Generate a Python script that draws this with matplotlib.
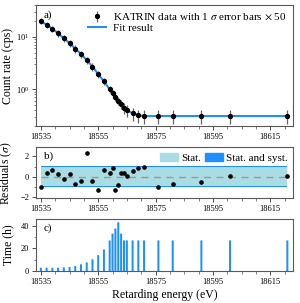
import numpy as np
import matplotlib
matplotlib.use('Agg')
from matplotlib import pyplot as plt
from matplotlib.patches import Patch
from matplotlib.ticker import MultipleLocator, LogLocator, NullFormatter

plt.rcParams['font.family'] = ['Liberation Serif', 'DejaVu Serif']
plt.rcParams['mathtext.fontset'] = 'stix'

# retarding energies of the scan steps (eV)
energy = [18535, 18537, 18539, 18541, 18543, 18545, 18547, 18549, 18551, 18553,
          18555, 18557, 18559, 18560, 18561, 18562, 18563, 18564, 18565, 18567,
          18569, 18571, 18576, 18581, 18591, 18601, 18621]

# count rate (cps)
rate = [19.9, 16.9, 14.2, 11.7, 9.3, 7.6, 5.9, 4.7, 3.6, 2.7,
        1.95, 1.42, 1.0, 0.85, 0.72, 0.61, 0.52, 0.45, 0.40, 0.35,
        0.32, 0.31, 0.31, 0.31, 0.31, 0.31, 0.31]

# 1 sigma errors, already x 50
rate_err = [2.4, 2.2, 1.9, 1.7, 1.4, 1.2, 0.95, 0.75, 0.57, 0.43,
            0.31, 0.23, 0.16, 0.13, 0.115, 0.10, 0.105, 0.11, 0.10, 0.095,
            0.09, 0.09, 0.09, 0.09, 0.09, 0.09, 0.09]

# fit result at the scan steps
fit_rate = [19.9, 16.9, 14.2, 11.7, 9.3, 7.6, 5.9, 4.7, 3.6, 2.7,
            1.95, 1.42, 1.0, 0.85, 0.72, 0.61, 0.52, 0.45, 0.40, 0.35,
            0.32, 0.31, 0.31, 0.31, 0.31, 0.31, 0.31]

# normalised residuals
resid = [-1.03, 0.34, 0.67, 0.25, -0.25, 0.27, -0.74, -0.47, 2.37, -0.41,
         -1.29, 0.70, 0.34, 0.90, -1.29, -0.86, 0.37, 0.41, 0.02, 0.51,
         0.90, 0.96, -1.05, -0.72, -0.55, 0.03, 0.03]

# measurement time per step (h)
meas_time = [2.9, 2.9, 2.9, 2.9, 3.2, 3.5, 4.4, 5.9, 7.6, 10.3,
             14, 19, 27, 33, 37.5, 43, 33, 27, 27, 27,
             27, 27, 27, 27, 27, 27, 27]

blue = '#1e8fff'
light = '#aadce4'

fig = plt.figure(figsize=(3.0, 3.03), dpi=100)
ax_a = fig.add_axes([0.12, 0.584, 0.857, 0.399])
ax_b = fig.add_axes([0.12, 0.345, 0.857, 0.169])
ax_c = fig.add_axes([0.12, 0.1056, 0.857, 0.172])

xlo, xhi = 18533.3, 18623

# panel a
ax_a.plot(energy, fit_rate, color=blue, lw=1.5, label='Fit result', zorder=2)
ax_a.errorbar(energy, rate, yerr=rate_err, fmt='o', color='black', ms=2.8,
              ecolor='0.4', elinewidth=0.9, capsize=0, zorder=3,
              label=r'KATRIN data with 1 $\sigma$ error bars $\times$ 50')
ax_a.set_yscale('log')
ax_a.set_ylim(0.2, 40)
ax_a.set_ylabel('Count rate (cps)', fontsize=8.5)
h, l = ax_a.get_legend_handles_labels()
ax_a.legend(h[::-1], l[::-1], loc='upper right', frameon=False, fontsize=8,
            handlelength=1.6, handletextpad=0.6, labelspacing=0.1,
            borderaxespad=0.2)
ax_a.text(0.03, 0.96, 'a)', transform=ax_a.transAxes, fontsize=8, va='top')
ax_a.yaxis.set_major_locator(LogLocator(base=10, numticks=5))
ax_a.yaxis.set_minor_locator(LogLocator(base=10, subs=np.arange(2, 10), numticks=10))
ax_a.yaxis.set_minor_formatter(NullFormatter())

# panel b
ax_b.fill_between(energy, -1.06, 1.06, color=blue, lw=0, zorder=1)
ax_b.fill_between(energy, -0.96, 0.96, color=light, lw=0, zorder=1)
ax_b.plot([energy[0], energy[-1]], [0, 0], color='0.6', lw=1, ls=(0, (5, 4)), zorder=2)
ax_b.plot(energy, resid, 'o', color='black', ms=2.3, zorder=3)
ax_b.set_ylim(-2.15, 2.9)
ax_b.set_yticks([-2, 0, 2])
ax_b.yaxis.set_minor_locator(MultipleLocator(1))
ax_b.set_ylabel(r'Residuals ($\sigma$)', fontsize=8.5)
ax_b.text(0.03, 0.92, 'b)', transform=ax_b.transAxes, fontsize=8, va='top')
ax_b.legend([Patch(color=light), Patch(color=blue)], ['Stat.', 'Stat. and syst.'],
            loc='upper right', ncol=2, frameon=False, fontsize=8,
            handlelength=1.6, handletextpad=0.3, columnspacing=0.3,
            borderaxespad=0.1)

# panel c
ax_c.bar(energy, meas_time, width=0.7, color=blue, lw=0, snap=False, zorder=2)
ax_c.set_ylim(0, 46)
ax_c.set_yticks([0, 20, 40])
ax_c.yaxis.set_minor_locator(MultipleLocator(10))
ax_c.set_ylabel('Time (h)', fontsize=8.5)
ax_c.set_xlabel('Retarding energy (eV)', fontsize=8.5, labelpad=2)
ax_c.text(0.03, 0.92, 'c)', transform=ax_c.transAxes, fontsize=8, va='top')

for ax in (ax_a, ax_b, ax_c):
    ax.set_xlim(xlo, xhi)
    ax.set_xticks([18535, 18555, 18575, 18595, 18615])
    ax.xaxis.set_minor_locator(MultipleLocator(5))
    ax.tick_params(which='both', direction='out', labelsize=6, color='0.3')
    ax.tick_params(which='major', length=3, width=0.7, pad=2)
    ax.tick_params(which='minor', length=1.8, width=0.5)
    for s in ax.spines.values():
        s.set_color('0.35')
        s.set_linewidth(0.8)
    ax.yaxis.set_label_coords(-0.085, 0.5)

fig.savefig('out.png', dpi=100)
